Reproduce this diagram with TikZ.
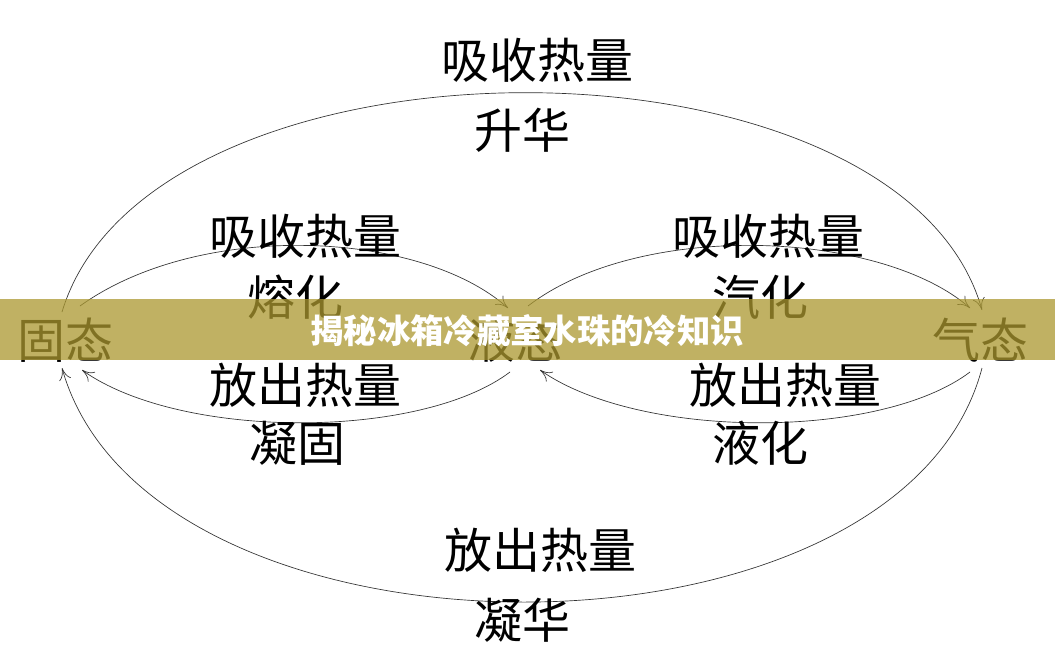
\documentclass[tikz,border=0pt]{standalone}
\usepackage{fontspec}
\usetikzlibrary{arrows.meta}
\newfontfamily\cjk{Noto Sans CJK SC}
\tikzset{every picture/.style={line width=0.5pt}}
\tikzset{lbl/.style={inner sep=0.75pt,font=\cjk\fontsize{36}{40}\selectfont},
  flow/.style={draw=black!80,line width=0.5pt,-{To[length=9pt,width=9pt]}}}
\begin{document}
\begin{tikzpicture}[x=0.75pt,y=0.75pt,yscale=-1,xscale=1]
\useasboundingbox (0,0) rectangle (1055,660);
\fill[white] (0,0) rectangle (1055,660);

% States
\node[lbl] (solid) at (65,340) {固态};
\node[lbl] (liquid) at (515,340) {液态};
\node[lbl] (gas) at (980,340) {气态};

% Upper arcs
\draw[flow] (62,312) .. controls (150,20) and (900,20) .. (982,310);
\draw[flow] (80,306) .. controls (200,220) and (420,230) .. (508,308);
\draw[flow] (528,306) .. controls (640,220) and (880,230) .. (970,308);
% Lower arcs
\draw[flow] (982,368) .. controls (900,680) and (150,680) .. (62,368);
\draw[flow] (510,372) .. controls (420,440) and (180,440) .. (82,370);
\draw[flow] (970,372) .. controls (880,440) and (640,440) .. (540,370);

% Text Node
\node[lbl] (t1) at (537,60) {吸收热量};
\node[lbl] (t2) at (522,130) {升华};
\node[lbl] (t3) at (305,236) {吸收热量};
\node[lbl] (t4) at (295,297) {熔化};
\node[lbl] (t5) at (768,236) {吸收热量};
\node[lbl] (t6) at (760,297) {汽化};
\node[lbl] (t7) at (305,385) {放出热量};
\node[lbl] (t8) at (297,443) {凝固};
\node[lbl] (t9) at (785,385) {放出热量};
\node[lbl] (t10) at (760,443) {液化};
\node[lbl] (t11) at (540,550) {放出热量};
\node[lbl] (t12) at (522,620) {凝华};

% Banner
\fill[fill={rgb,255:red,171;green,152;blue,48},fill opacity=0.75] (0,299) rectangle (1055,360);
\node[inner sep=0pt,text=white,font=\cjk\bfseries\fontsize{25}{28}\selectfont] (title) at (527,331) {揭秘冰箱冷藏室水珠的冷知识};
\end{tikzpicture}
\end{document}
